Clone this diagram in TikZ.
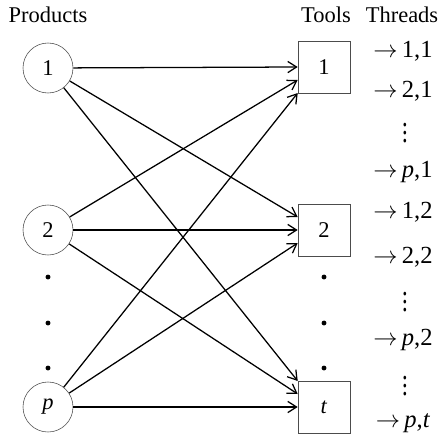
\documentclass[tikz,border=0pt]{standalone}
\usepackage{fontspec}
\setmainfont{Liberation Serif}
\usetikzlibrary{
    arrows.meta, % For arrow tips
    calc,        % For offsets along the tool boxes
    positioning  % For label positioning
}

\begin{document}
\begin{tikzpicture}[
    x=0.025cm, y=-0.025cm, % one unit = one pixel of the sketch, y runs down
    font=\fontsize{16}{19}\selectfont,
    >={Straight Barb[length=2.2mm, width=2.8mm]}, % open arrow tips
    product/.style={circle, draw=black!70, thin, minimum size=1.25cm, inner sep=0pt},
    tool/.style={rectangle, draw=black!70, thin, minimum size=1.3cm, inner sep=0pt},
    link/.style={->, line width=0.9pt},
    dot/.style={circle, fill=black, inner sep=0pt, minimum size=3.5pt},
    thread/.style={anchor=base, inner sep=0pt, font=\fontsize{17.5}{20}\selectfont}
]
    \useasboundingbox (0,0) rectangle (441,441);

    % Column headings
    \node[anchor=base] (hprod) at (48,22) {Products};
    \node[anchor=base] (htool) at (326,22) {Tools};
    \node[anchor=base] (hthr) at (402,22) {Threads};

    % Products (circles) and tools (boxes)
    \node[product] (c1) at (48,68) {1};
    \node[product] (c2) at (48,230) {2};
    \node[product] (cp) at (48,407) {\textit{p}};
    \node[tool] (b1) at (324,67) {1};
    \node[tool] (b2) at (324,230) {2};
    \node[tool] (bt) at (324,407) {\textit{t}};

    % Dots between the nodes
    \foreach \y in {277,323,368} {
        \node[dot] (ld\y) at (48,\y) {};
        \node[dot] (rd\y) at (324,\y) {};
    }

    % Every product to every tool, spread along the box side
    \foreach \src/\i in {c1/1, c2/2, cp/3}
        \foreach \dst/\j in {b1/1, b2/2, bt/3}
            \draw[link] (\src) -- ($(\dst.west)+(0,{13*(\i-\j)})$);

    % Threads
    \foreach \y/\txt [count=\k] in {57/{1,1}, 97/{2,1}, 177/{\textit{p},1}, 218/{1,2},
                                    263/{2,2}, 345/{\textit{p},2}, 427/{\textit{p},\textit{t}}}
        \node[thread] (th\k) at (403,\y) {$\rightarrow$\,\txt};
    \foreach \y [count=\k] in {127,296,380}
        \node[inner sep=0pt] (vd\k) at (405,\y) {\scalebox{1}[1.4]{$\vdots$}};

\end{tikzpicture}
\end{document}
